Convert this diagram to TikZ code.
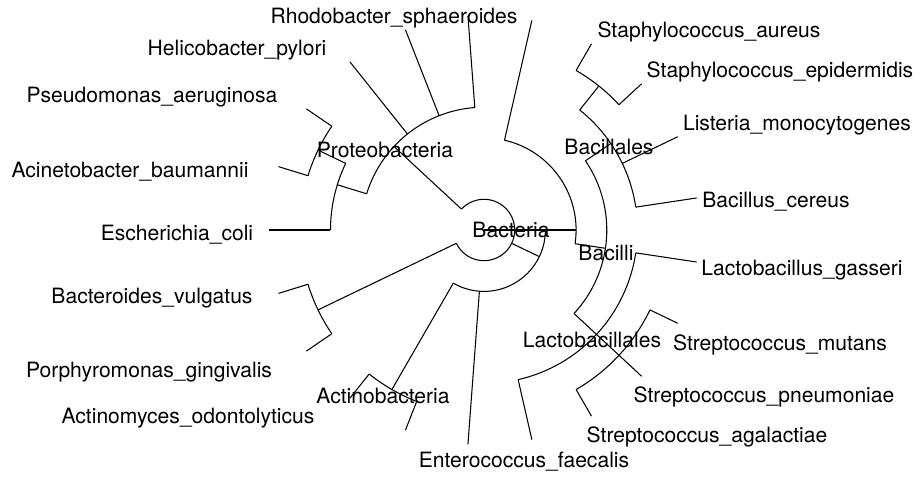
\documentclass[tikz,border=0pt]{standalone}
\usepackage{fontspec}
\setmainfont{TeX Gyre Heros}

% radii of the levels of the fan, one unit is one pixel
\newcommand{\rA}{30.7}
\newcommand{\rB}{61.4}
\newcommand{\rC}{92.1}
\newcommand{\rD}{122.8}
\newcommand{\rE}{153.5}
\newcommand{\rF}{184.2}
\newcommand{\rTip}{215}

% a tip branch: angle, radius of the parent, name of the tip
\newcommand{\tipline}[3]{\draw[branch] (#1:#2) -- (#1:\rTip) coordinate (#3);}

\tikzset{
  branch/.style={line width=0.6pt},
  taxon/.style={font=\fontsize{12}{14}\selectfont, inner sep=0pt},
}

\begin{document}
\begin{tikzpicture}[x=0.02cm, y=0.02cm]
    \useasboundingbox (-484,-249) rectangle (436,230);
    % root, Bacteria and the branch to Firmicutes
    \coordinate (root) at (0,0);
    \coordinate (bact) at (0:\rA);
    \coordinate (firm) at (0:\rC);
    \draw[branch] (root) -- (bact) -- (firm);
    \draw[branch] (137.14:\rA) arc[start angle=137.14, end angle=-154.29, radius=\rA];

    % Proteobacteria
    \draw[branch] (137.14:\rA) -- (137.14:\rD) coordinate (prot);
    \draw[branch] (162.86:\rD) arc[start angle=162.86, end angle=94.29, radius=\rD];
    \draw[branch] (162.86:\rD) -- (162.86:\rE) coordinate (gamma);
    \draw[branch] (154.29:\rE) arc[start angle=154.29, end angle=180, radius=\rE];
    \draw[branch] (154.29:\rE) -- (154.29:\rF) coordinate (pseudo);
    \draw[branch] (145.71:\rF) arc[start angle=145.71, end angle=162.86, radius=\rF];
    \tipline{180}{\rE}{t0}
    \tipline{162.86}{\rF}{t1}
    \tipline{145.71}{\rF}{t2}
    \tipline{128.57}{\rD}{t3}
    \tipline{111.43}{\rD}{t4}
    \tipline{94.29}{\rD}{t5}

    % Bacteroidetes
    \draw[branch] (-154.29:\rA) -- (-154.29:\rF) coordinate (bacteroid);
    \draw[branch] (-145.71:\rF) arc[start angle=-145.71, end angle=-162.86, radius=\rF];
    \tipline{-145.71}{\rF}{t19}
    \tipline{-162.86}{\rF}{t20}

    % the clade below Bacteria
    \draw[branch] (-25.71:\rA) -- (-25.71:\rB) coordinate (lower);
    \draw[branch] (0:\rB) arc[start angle=0, end angle=-120, radius=\rB];
    \tipline{-94.29}{\rB}{t16}

    % Actinobacteria
    \draw[branch] (-120:\rB) -- (-120:\rF) coordinate (actino);
    \draw[branch] (-111.43:\rF) arc[start angle=-111.43, end angle=-128.57, radius=\rF];
    \tipline{-111.43}{\rF}{t17}
    \tipline{-128.57}{\rF}{t18}

    % Firmicutes and Bacilli
    \draw[branch] (77.14:\rC) arc[start angle=77.14, end angle=-8.57, radius=\rC];
    \tipline{77.14}{\rC}{t6}
    \draw[branch] (-8.57:\rC) -- (-8.57:\rD) coordinate (bacilli);
    \draw[branch] (34.29:\rD) arc[start angle=34.29, end angle=-42.86, radius=\rD];

    % Bacillales
    \draw[branch] (34.29:\rD) -- (34.29:\rE) coordinate (bacillales);
    \draw[branch] (51.43:\rE) arc[start angle=51.43, end angle=8.57, radius=\rE];
    \draw[branch] (51.43:\rE) -- (51.43:\rF) coordinate (staph);
    \draw[branch] (60:\rF) arc[start angle=60, end angle=42.86, radius=\rF];
    \tipline{60}{\rF}{t7}
    \tipline{42.86}{\rF}{t8}
    \tipline{25.71}{\rE}{t9}
    \tipline{8.57}{\rE}{t10}

    % Lactobacillales
    \draw[branch] (-42.86:\rD) -- (-42.86:\rE) coordinate (lacto);
    \draw[branch] (-8.57:\rE) arc[start angle=-8.57, end angle=-77.14, radius=\rE];
    \draw[branch] (-42.86:\rE) -- (-42.86:\rF) coordinate (strep);
    \draw[branch] (-25.71:\rF) arc[start angle=-25.71, end angle=-60, radius=\rF];
    \tipline{-8.57}{\rE}{t11}
    \tipline{-25.71}{\rF}{t12}
    \tipline{-42.86}{\rF}{t13}
    \tipline{-60}{\rF}{t14}
    \tipline{-77.14}{\rE}{t15}

    % labels
    \node[taxon] (l-bact) at (27,0) {Bacteria};
    \node[taxon] (l-prot) at (-99,80) {Proteobacteria};
    \node[taxon] (l-actino) at (-101,-166) {Actinobacteria};
    \node[taxon] (l-bacilli) at (122,-23) {Bacilli};
    \node[taxon] (l-bacillales) at (125,83) {Bacillales};
    \node[taxon] (l-lacto) at (108,-110) {Lactobacillales};

    \node[taxon] (rhodo) at (-90,212) {Rhodobacter\_sphaeroides};
    \node[taxon] (helico) at (-247,180) {Helicobacter\_pylori};
    \node[taxon] (pseudomonas) at (-332,133) {Pseudomonas\_aeruginosa};
    \node[taxon] (acineto) at (-354,58) {Acinetobacter\_baumannii};
    \node[taxon] (ecoli) at (-307,-5) {Escherichia\_coli};
    \node[taxon] (bvulg) at (-332,-68) {Bacteroides\_vulgatus};
    \node[taxon] (porphyro) at (-335,-142) {Porphyromonas\_gingivalis};
    \node[taxon] (actinomyces) at (-296,-188) {Actinomyces\_odontolyticus};
    \node[taxon] (entero) at (40,-232) {Enterococcus\_faecalis};
    \node[taxon] (sagal) at (223,-207) {Streptococcus\_agalactiae};
    \node[taxon] (spneu) at (280,-167) {Streptococcus\_pneumoniae};
    \node[taxon] (smut) at (296,-115) {Streptococcus\_mutans};
    \node[taxon] (lgass) at (318,-40) {Lactobacillus\_gasseri};
    \node[taxon] (bcer) at (292,28) {Bacillus\_cereus};
    \node[taxon] (listeria) at (313,105) {Listeria\_monocytogenes};
    \node[taxon] (sepi) at (296,158) {Staphylococcus\_epidermidis};
    \node[taxon] (saur) at (225,198) {Staphylococcus\_aureus};
\end{tikzpicture}
\end{document}
